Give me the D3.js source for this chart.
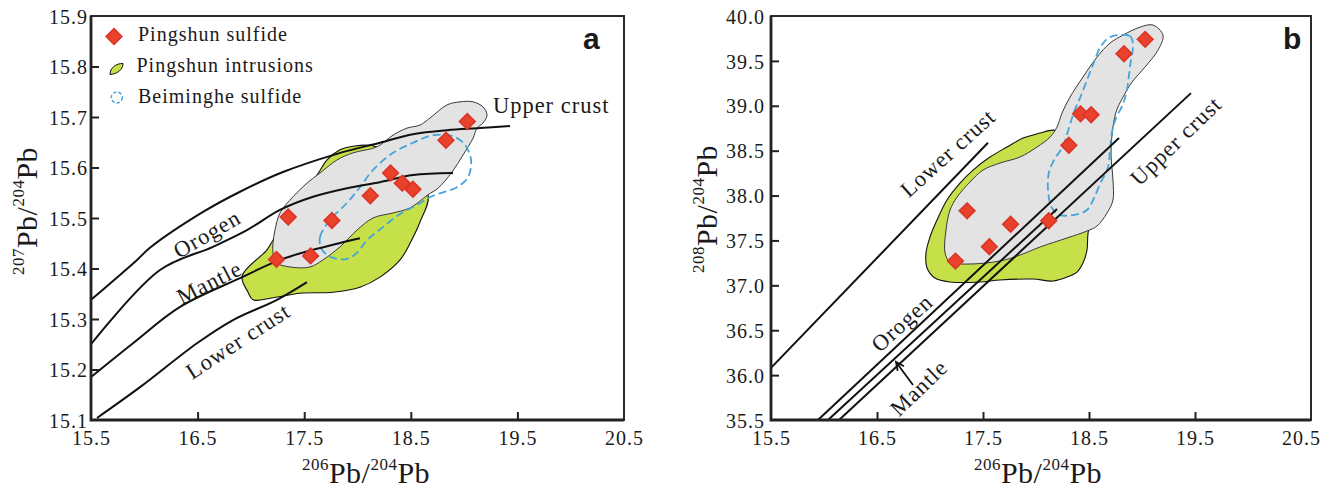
<!DOCTYPE html>
<html>
<head>
<meta charset="utf-8">
<script src="https://cdn.jsdelivr.net/npm/d3@7"></script>
<style>
  html, body { margin: 0; padding: 0; background: #fff; }
  svg { display: block; }
  text { font-family: "Liberation Serif", "Times New Roman", serif; fill: #1a1a1a; }
</style>
</head>
<body>
<svg id="chart" width="1336" height="490"></svg>
<script>
// ---------- Pb isotope data ----------
// Pingshun sulfide samples
const sulfide206 = [17.24, 17.35, 17.56, 17.76, 18.12, 18.31, 18.42, 18.52, 18.83, 19.03];
const sulfide207 = [15.418, 15.502, 15.425, 15.495, 15.544, 15.589, 15.569, 15.557, 15.654, 15.691];
const sulfide208 = [37.27, 37.83, 37.43, 37.68, 37.72, 38.56, 38.91, 38.90, 39.58, 39.74];

// Axis ticks
const xTicks = [15.5, 16.5, 17.5, 18.5, 19.5, 20.5];
const yTicks207 = [15.1, 15.2, 15.3, 15.4, 15.5, 15.6, 15.7, 15.8, 15.9];
const yTicks208 = [35.5, 36.0, 36.5, 37.0, 37.5, 38.0, 38.5, 39.0, 39.5, 40.0];

// Plumbotectonic evolution curves, 207Pb/204Pb vs 206Pb/204Pb
const upperCrust207 = [[15.5, 15.338], [15.932, 15.417], [16.053, 15.441], [16.551, 15.512], [16.898, 15.552],
  [17.301, 15.591], [17.808, 15.627], [18.211, 15.649], [18.521, 15.666], [18.840, 15.674], [19.149, 15.678], [19.431, 15.682]];
const orogen207 = [[15.5, 15.250], [16.147, 15.397], [16.644, 15.443], [16.963, 15.476], [17.273, 15.516],
  [17.583, 15.542], [17.902, 15.559], [18.211, 15.571], [18.521, 15.585], [18.896, 15.589]];
const mantle207 = [[15.5, 15.185], [15.894, 15.252], [16.335, 15.324], [16.898, 15.381], [17.273, 15.417],
  [17.583, 15.437], [18.023, 15.460]];
const lowerCrust207 = [[15.556, 15.104], [15.960, 15.165], [16.494, 15.252], [16.832, 15.298], [17.245, 15.338], [17.526, 15.373]];

// Evolution lines, 208Pb/204Pb vs 206Pb/204Pb
const lowerCrust208 = [[15.5, 36.08], [17.547, 38.588]];
const orogen208 = [[15.943, 35.5], [18.783, 38.640]];
const mantle208 = [[16.038, 35.5], [18.198, 37.850]];
const upperCrust208 = [[16.142, 35.5], [19.462, 39.141]];

// Pingshun intrusions field
const intrusions207 = [[16.917, 15.385], [16.973, 15.353], [17.020, 15.338], [17.207, 15.342], [17.461, 15.351],
  [17.770, 15.353], [18.023, 15.363], [18.211, 15.383], [18.399, 15.417], [18.493, 15.450], [18.586, 15.492],
  [18.661, 15.546], [18.446, 15.585], [18.258, 15.631], [18.145, 15.643], [17.958, 15.642], [17.836, 15.635],
  [17.714, 15.615], [17.620, 15.585], [17.367, 15.516], [17.207, 15.456], [17.151, 15.437]];
const intrusions208 = [[18.160, 38.729], [18.038, 38.696], [17.877, 38.640], [17.726, 38.540], [17.566, 38.429],
  [17.406, 38.284], [17.283, 38.139], [17.160, 37.950], [17.066, 37.727], [17.000, 37.538], [16.962, 37.360],
  [16.972, 37.193], [17.047, 37.081], [17.189, 37.037], [17.472, 37.037], [17.660, 37.059], [17.972, 37.070],
  [18.160, 37.048], [18.292, 37.092], [18.387, 37.148], [18.443, 37.248], [18.481, 37.393], [18.491, 37.582],
  [18.557, 37.950], [18.415, 38.507], [18.245, 38.707]];

// Pingshun sulfide envelope (grey field)
const sulfideField207 = [[17.226, 15.413], [17.367, 15.403], [17.554, 15.403], [17.676, 15.417], [17.836, 15.443],
  [17.995, 15.476], [18.145, 15.500], [18.333, 15.510], [18.493, 15.520], [18.661, 15.546], [18.755, 15.559],
  [18.887, 15.591], [18.990, 15.625], [19.084, 15.658], [19.121, 15.678], [19.177, 15.688], [19.215, 15.704],
  [19.177, 15.720], [19.084, 15.730], [18.962, 15.730], [18.840, 15.724], [18.680, 15.698], [18.586, 15.684],
  [18.464, 15.678], [18.333, 15.664], [18.183, 15.641], [17.958, 15.629], [17.808, 15.615], [17.648, 15.589],
  [17.526, 15.569], [17.395, 15.542], [17.273, 15.510], [17.226, 15.476], [17.207, 15.450], [17.207, 15.431]];
const sulfideField208 = [[19.104, 39.899], [19.198, 39.787], [19.151, 39.620], [19.028, 39.431], [18.906, 39.264],
  [18.821, 39.097], [18.755, 38.930], [18.717, 38.674], [18.708, 38.451], [18.726, 38.173], [18.726, 37.950],
  [18.670, 37.805], [18.575, 37.660], [18.481, 37.605], [18.292, 37.527], [18.038, 37.427], [17.849, 37.337],
  [17.660, 37.271], [17.349, 37.237], [17.189, 37.260], [17.142, 37.360], [17.151, 37.616], [17.189, 37.839],
  [17.255, 37.983], [17.377, 38.150], [17.500, 38.284], [17.660, 38.362], [17.849, 38.429], [18.009, 38.540],
  [18.132, 38.651], [18.198, 38.763], [18.245, 38.919], [18.321, 39.097], [18.443, 39.320], [18.575, 39.542],
  [18.698, 39.698], [18.821, 39.787], [18.981, 39.876]];

// Beiminghe sulfide field
const beiminghe207 = [[17.667, 15.437], [17.648, 15.462], [17.742, 15.496], [17.902, 15.530], [18.023, 15.561],
  [18.145, 15.595], [18.333, 15.629], [18.521, 15.649], [18.708, 15.664], [18.896, 15.662], [19.008, 15.645],
  [19.065, 15.615], [19.037, 15.581], [18.933, 15.561], [18.708, 15.544], [18.558, 15.526], [18.399, 15.508],
  [18.239, 15.482], [18.089, 15.456], [17.995, 15.431], [17.902, 15.419], [17.770, 15.421]];
const beiminghe208 = [[18.698, 39.765], [18.887, 39.776], [18.915, 39.676], [18.896, 39.509], [18.877, 39.342],
  [18.858, 39.175], [18.821, 39.019], [18.755, 38.863], [18.717, 38.707], [18.698, 38.507], [18.679, 38.317],
  [18.604, 38.128], [18.547, 37.972], [18.481, 37.839], [18.396, 37.794], [18.226, 37.783], [18.151, 37.861],
  [18.113, 38.061], [18.123, 38.262], [18.170, 38.395], [18.255, 38.551], [18.311, 38.752], [18.358, 38.930],
  [18.415, 39.086], [18.481, 39.286], [18.547, 39.487], [18.613, 39.665]];

// ---------- styling ----------
const RED = "#e8412c", RED_EDGE = "#dc3326";
const GREEN = "#c6e04a";
const GREY = "#e3e3e3";
const BLUE = "#46a4d9";
const INK = "#1f1f1f";

const svg = d3.select("#chart");
svg.append("rect").attr("width", 1336).attr("height", 490).attr("fill", "#fff");

function drawPanel(opt) {
  const x = d3.scaleLinear().domain([15.5, 20.5]).range([opt.left, opt.xEnd]);
  const y = d3.scaleLinear().domain(opt.yDomain).range([420, 16]);
  const g = svg.append("g");

  const closed = d3.line().x(d => x(d[0])).y(d => y(d[1])).curve(d3.curveCatmullRomClosed.alpha(0.5));
  const open = d3.line().x(d => x(d[0])).y(d => y(d[1])).curve(d3.curveCatmullRom.alpha(0.5));

  // fields
  g.append("path").attr("d", closed(opt.intrusions))
    .attr("fill", GREEN).attr("stroke", "#111").attr("stroke-width", 1.1);
  g.append("path").attr("d", closed(opt.field))
    .attr("fill", GREY).attr("stroke", "#3a3a3a").attr("stroke-width", 1);
  g.append("path").attr("d", closed(opt.beiminghe))
    .attr("fill", "none").attr("stroke", BLUE).attr("stroke-width", 1.8)
    .attr("stroke-dasharray", "8,4");

  // evolution curves
  opt.curves.forEach(c => {
    g.append("path").attr("d", open(c)).attr("fill", "none")
      .attr("stroke", "#111").attr("stroke-width", 2);
  });

  // curve labels
  opt.labels.forEach(l => {
    g.append("text")
      .attr("transform", `translate(${x(l.x)},${y(l.y)}) rotate(${l.angle})`)
      .attr("text-anchor", l.anchor || "middle")
      .attr("dy", l.anchor ? 0 : "0.33em")
      .style("font-size", "22.5px").style("letter-spacing", "1px")
      .text(l.text);
  });

  if (opt.arrow) {
    const a = opt.arrow;
    const x1 = x(a.from[0]), y1 = y(a.from[1]), x2 = x(a.to[0]), y2 = y(a.to[1]);
    const ang = Math.atan2(y2 - y1, x2 - x1);
    const L = 9, spread = 0.45;
    const b1 = [x2 - L * Math.cos(ang - spread), y2 - L * Math.sin(ang - spread)];
    const b2 = [x2 - L * Math.cos(ang + spread), y2 - L * Math.sin(ang + spread)];
    g.append("path")
      .attr("d", `M${x1},${y1}L${x2},${y2}M${b1[0]},${b1[1]}L${x2},${y2}L${b2[0]},${b2[1]}`)
      .attr("fill", "none").attr("stroke", "#111").attr("stroke-width", 1.8);
  }

  // sulfide samples
  const diamond = d3.symbol(d3.symbolSquare, 124);
  g.selectAll("path.pt").data(d3.range(sulfide206.length)).join("path")
    .attr("class", "pt")
    .attr("d", diamond)
    .attr("transform", i => `translate(${x(sulfide206[i])},${y(opt.yValues[i])}) rotate(45)`)
    .attr("fill", RED).attr("stroke", RED_EDGE).attr("stroke-width", 1.5);

  // frame
  g.append("rect").attr("x", opt.left).attr("y", 16)
    .attr("width", opt.right - opt.left).attr("height", 404)
    .attr("fill", "none").attr("stroke", "#2a2a2a").attr("stroke-width", 2);
  g.append("path").attr("d", `M${opt.left},16V420H${opt.right}`)
    .attr("fill", "none").attr("stroke", "#222").attr("stroke-width", 2.8);

  // axes
  const xAxis = d3.axisBottom(x).tickValues(xTicks).tickFormat(d3.format(".1f"))
    .tickSizeInner(-8).tickSizeOuter(0).tickPadding(11);
  const xa = g.append("g").attr("transform", "translate(0,420)").call(xAxis);
  xa.select(".domain").remove();
  xa.selectAll(".tick line").attr("stroke", "#222").attr("stroke-width", 2)
    .attr("display", d => (d === 15.5 || d === 20.5) ? "none" : null);
  xa.selectAll(".tick text").attr("fill", INK)
    .style("font-family", '"Liberation Serif", serif').style("font-size", "20px").style("letter-spacing", "1px");

  const yAxis = d3.axisLeft(y).tickValues(opt.yTicks).tickFormat(d3.format(".1f"))
    .tickSizeInner(-8).tickSizeOuter(0).tickPadding(opt.yPad);
  const ya = g.append("g").attr("transform", `translate(${opt.left},0)`).call(yAxis);
  ya.select(".domain").remove();
  ya.selectAll(".tick line").attr("stroke", "#222").attr("stroke-width", 2)
    .attr("display", (d, i) => (i === 0 || i === opt.yTicks.length - 1) ? "none" : null);
  ya.selectAll(".tick text").attr("fill", INK).attr("dy", "0.36em")
    .style("font-family", '"Liberation Serif", serif').style("font-size", "20px").style("letter-spacing", "1px");

  // axis titles
  function isoTitle(sel, mass) {
    sel.append("tspan").style("font-size", "17px").attr("dy", -13).text(mass);
    sel.append("tspan").style("font-size", "30px").attr("dy", 13).text("Pb/");
    sel.append("tspan").style("font-size", "17px").attr("dy", -13).text("204");
    sel.append("tspan").style("font-size", "30px").attr("dy", 13).text("Pb");
  }
  const xt = g.append("text").attr("x", opt.xTitleX).attr("y", 483)
    .attr("text-anchor", "middle").style("letter-spacing", "0.5px");
  isoTitle(xt, "206");
  const yt = g.append("text")
    .attr("transform", `translate(${opt.yTitleX},${opt.yTitleY}) rotate(-90)`)
    .attr("text-anchor", "middle").style("letter-spacing", "0.5px");
  isoTitle(yt, opt.yMass);

  // panel letter
  g.append("text").attr("x", opt.letterX).attr("y", opt.letterY)
    .style("font-family", '"Liberation Sans", Arial, sans-serif')
    .style("font-weight", "bold").style("font-size", "30px")
    .text(opt.letter);

  return { x, y, g };
}

// Panel a: 207Pb/204Pb
drawPanel({
  left: 91, xEnd: 624, right: 624, yDomain: [15.1, 15.9], yTicks: yTicks207, yPad: 3,
  intrusions: intrusions207, field: sulfideField207, beiminghe: beiminghe207,
  curves: [upperCrust207, orogen207, mantle207, lowerCrust207],
  labels: [
    { text: "Upper crust", x: 19.27, y: 15.708, angle: 0, anchor: "start" },
    { text: "Orogen", x: 16.59, y: 15.468, angle: -30 },
    { text: "Mantle", x: 16.61, y: 15.372, angle: -27 },
    { text: "Lower crust", x: 16.88, y: 15.256, angle: -33 }
  ],
  yValues: sulfide207, yMass: "207",
  xTitleX: 366, yTitleX: 37, yTitleY: 211,
  letter: "a", letterX: 583, letterY: 49
});

// Panel b: 208Pb/204Pb
drawPanel({
  left: 771, xEnd: 1301, right: 1311, yDomain: [35.5, 40.0], yTicks: yTicks208, yPad: 6,
  intrusions: intrusions208, field: sulfideField208, beiminghe: beiminghe208,
  curves: [lowerCrust208, orogen208, mantle208, upperCrust208],
  labels: [
    { text: "Lower crust", x: 17.17, y: 38.473, angle: -42 },
    { text: "Orogen", x: 16.736, y: 36.58, angle: -42 },
    { text: "Mantle", x: 16.896, y: 35.856, angle: -44 },
    { text: "Upper crust", x: 19.321, y: 38.607, angle: -44 }
  ],
  arrow: { from: [16.84, 35.89], to: [16.679, 36.146] },
  yValues: sulfide208, yMass: "208",
  xTitleX: 1038, yTitleX: 717, yTitleY: 209,
  letter: "b", letterX: 1283, letterY: 49
});

// ---------- legend (panel a) ----------
const lg = svg.append("g");
lg.append("path").attr("d", d3.symbol(d3.symbolSquare, 124))
  .attr("transform", "translate(114,36.5) rotate(45)")
  .attr("fill", RED).attr("stroke", RED_EDGE).attr("stroke-width", 1.5);
lg.append("path").attr("d", "M110,74.5C110,68 116,63.2 123,63.5C123,69.5 117.5,74 110,74.5Z")
  .attr("fill", GREEN).attr("stroke", "#111").attr("stroke-width", 1);
lg.append("circle").attr("cx", 116.8).attr("cy", 97.5).attr("r", 5.5)
  .attr("fill", "none").attr("stroke", BLUE).attr("stroke-width", 1.5)
  .attr("stroke-dasharray", "3.2,2.2");
const legendItems = ["Pingshun sulfide", "Pingshun intrusions", "Beiminghe sulfide"];
const legendX = [138, 136.5, 138];
const legendY = [41, 72, 103];
legendItems.forEach((t, i) => {
  lg.append("text").attr("x", legendX[i]).attr("y", legendY[i])
    .style("font-size", "20px").style("letter-spacing", "1px").text(t);
});
</script>
</body>
</html>
